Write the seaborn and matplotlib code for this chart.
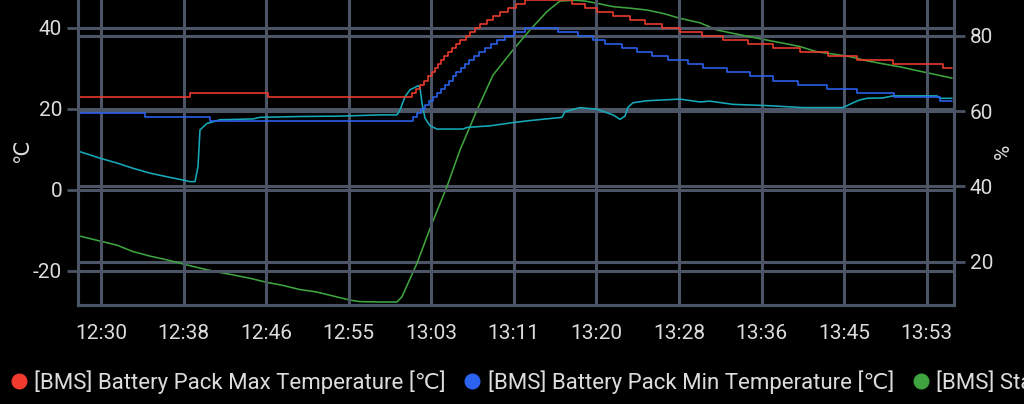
import numpy as np
import matplotlib
matplotlib.use('Agg')
import matplotlib.pyplot as plt
from matplotlib.lines import Line2D
import seaborn as sns

# x values are minutes after 12:00
max_t = [27.9, 38.9, 46.7, 61.1, 61.5, 61.9, 62.3, 62.7, 63.1, 63.4, 63.7, 64.0, 64.3,
         64.7, 65.1, 65.5, 65.9, 66.5, 66.9, 67.4, 67.9, 68.6, 69.2, 69.9, 70.7, 71.5,
         72.4, 77.1, 78.4, 79.6, 81.2, 82.9, 84.4, 86.1, 87.9, 90.1, 92.2, 94.7, 97.2,
         99.9, 102.7, 105.6, 109.2, 114.2, 115.1]
max_temp = [23, 24, 23, 24, 25, 26, 27, 28, 29, 30, 31, 32, 33,
            34, 35, 36, 37, 38, 39, 40, 41, 42, 43, 44, 45, 46,
            47, 46, 45, 44, 43, 42, 41, 40, 39, 38, 37, 36, 35,
            34, 33, 32, 31, 30, 30]

min_t = [27.9, 34.4, 40.9, 61.2, 61.6, 62.0, 62.4, 62.8, 63.2, 63.6, 64.0, 64.4, 64.8,
         65.15, 65.5, 66.0, 66.4, 66.8, 67.3, 67.8, 68.4, 69.0, 69.6, 70.4, 71.3, 72.4,
         75.7, 77.7, 79.2, 80.4, 82.1, 83.6, 85.1, 86.7, 88.7, 90.2, 92.6, 94.9, 97.2,
         99.7, 102.6, 105.6, 109.3, 113.9, 115.1]
min_temp = [19, 18, 17, 18, 19, 20, 21, 22, 23, 24, 25, 26, 27,
            28, 29, 30, 31, 32, 33, 34, 35, 36, 37, 38, 39, 40,
            39, 38, 37, 36, 35, 34, 33, 32, 31, 30, 29, 28, 27,
            26, 25, 24, 23, 22, 22]

soc_t = [27.9, 29.9, 31.6, 33.2, 34.9, 36.6, 38.2, 39.9, 41.6, 43.2, 44.9, 46.6, 48.2,
         49.9, 51.5, 53.2, 54.9, 55.9, 57.9, 59.6, 60.1, 61.6, 63.1, 64.6, 65.9, 67.6,
         69.2, 71.2, 72.9, 74.6, 75.9, 77.4, 78.4, 79.6, 81.2, 82.9, 84.6, 86.2, 87.9,
         89.9, 91.6, 93.2, 94.9, 96.6, 98.2, 99.9, 101.6, 103.2, 104.9, 106.6, 108.2,
         109.9, 111.6, 113.2, 115.1]
soc = [26.8, 25.5, 24.4, 22.7, 21.5, 20.5, 19.4, 18.3, 17.3, 16.5, 15.6, 14.5, 13.7,
       12.6, 12.0, 10.9, 9.8, 9.4, 9.3, 9.3, 10.7, 19.6, 30.2, 40.0, 49.7, 60.3,
       69.6, 76.3, 81.6, 86.5, 89.3, 89.5, 89.3, 88.7, 87.8, 87.4, 86.9, 86.0, 84.7,
       83.5, 81.6, 80.7, 79.8, 78.9, 78.1, 77.2, 75.8, 75.2, 74.5, 73.4, 72.6,
       71.8, 70.8, 69.9, 68.8]

cyan_t = [27.9, 29.9, 31.6, 33.2, 34.9, 36.6, 38.2, 38.9, 39.4, 39.7, 39.9, 40.6, 41.2,
          41.9, 45.2, 45.9, 49.9, 53.9, 57.9, 59.6, 59.9, 60.4, 60.9, 61.7, 61.9, 62.1,
          62.4, 62.9, 63.6, 66.2, 66.6, 68.9, 71.2, 72.9, 76.1, 76.4, 77.9, 79.6, 81.2,
          81.9, 82.4, 82.7, 83.2, 84.6, 87.9, 89.9, 90.9, 93.2, 96.6, 100.2, 104.2,
          105.2, 105.9, 106.6, 108.2, 109.2, 113.6, 113.9, 115.1]
cyan_temp = [9.4, 7.8, 6.6, 5.3, 4.1, 3.2, 2.4, 2.0, 2.0, 5.7, 14.8, 16.4, 16.8,
             17.3, 17.5, 17.9, 18.1, 18.2, 18.5, 18.5, 19.7, 23.0, 24.7, 25.7, 25.3, 21.4,
             17.7, 15.8, 15.0, 15.0, 15.4, 15.8, 16.6, 17.1, 17.9, 19.3, 20.3, 19.9, 18.5,
             17.4, 18.2, 20.4, 21.5, 22.0, 22.4, 21.7, 21.9, 21.1, 20.8, 20.3, 20.3,
             21.5, 22.2, 22.6, 22.7, 23.2, 23.2, 22.6, 22.6]

tick_labels = ['12:30', '12:38', '12:46', '12:55', '13:03', '13:11', '13:20',
               '13:28', '13:36', '13:45', '13:53']
legend_labels = ['[BMS] Battery Pack Max Temperature [℃]',
                 '[BMS] Battery Pack Min Temperature [℃]',
                 '[BMS] State of Charge [%]']

red, blue, green, cyan = '#f23b2e', '#2b62f0', '#3fa33f', '#16a9b9'
grid_col = '#4b5565'
text_col = '#dcdcdc'

sns.set_theme(style='dark', rc={'figure.facecolor': 'black', 'axes.facecolor': 'black'})
plt.rcParams['font.family'] = ['Roboto', 'DejaVu Sans']
plt.rcParams['axes.unicode_minus'] = False

fig = plt.figure(figsize=(10.24, 4.04), dpi=100, facecolor='black')
ax = fig.add_axes([78 / 1024, 99 / 404, 876 / 1024, 307 / 404])
ax2 = ax.twinx()
ax.set_zorder(ax2.get_zorder() + 1)
ax.patch.set_visible(False)
ax2.patch.set_facecolor('black')

lw = 1.15
sns.lineplot(x=soc_t, y=soc, ax=ax2, color=green, lw=lw, estimator=None)
sns.lineplot(x=cyan_t, y=cyan_temp, ax=ax, color=cyan, lw=lw, estimator=None)
sns.lineplot(x=min_t, y=min_temp, ax=ax, color=blue, lw=lw, estimator=None,
             drawstyle='steps-post')
sns.lineplot(x=max_t, y=max_temp, ax=ax, color=red, lw=lw, estimator=None,
             drawstyle='steps-post')

ax.set_xlim(27.7, 115.3)
ax.set_ylim(-28.5, 47.4)
ax2.set_ylim(8.5, 90.1)
ax.set_xticks(np.linspace(30.0, 112.57, len(tick_labels)))
ax.set_xticklabels(tick_labels)
ax.set_yticks([-20, 0, 20, 40])
ax2.set_yticks([20, 40, 60, 80])

fs = 15
for a in (ax, ax2):
    a.tick_params(axis='both', colors=grid_col, labelcolor=text_col, length=8,
                  width=2, labelsize=fs, pad=3.5)
    for s in a.spines.values():
        s.set_color(grid_col)
        s.set_linewidth(2.2)
    a.spines['top'].set_visible(False)
ax.tick_params(axis='x', pad=6)
ax.grid(True, color=grid_col, lw=2.2)
ax2.grid(True, axis='y', color=grid_col, lw=2.2)
ax2.grid(False, axis='x')
ax.set_xlabel('')

ax.set_ylabel('℃', color=text_col, fontsize=fs)
ax.yaxis.set_label_coords(-0.053, 0.5)
ax2.set_ylabel('%', color=text_col, fontsize=fs, rotation=90)
ax2.yaxis.set_label_coords(1.046, 0.5)

# the third entry runs past the right edge, as in the app screenshot
handles = [Line2D([], [], ls='', marker='o', ms=10.5, color=c, mec=c)
           for c in (red, blue, green)]
fig.legend(handles, legend_labels, loc='center left', bbox_to_anchor=(-0.009, 0.055),
           ncol=3, frameon=False, handlelength=0.7, handletextpad=0.35,
           columnspacing=0.85, fontsize=16, labelcolor=text_col)

fig.savefig('out.png', dpi=100, facecolor='black')
